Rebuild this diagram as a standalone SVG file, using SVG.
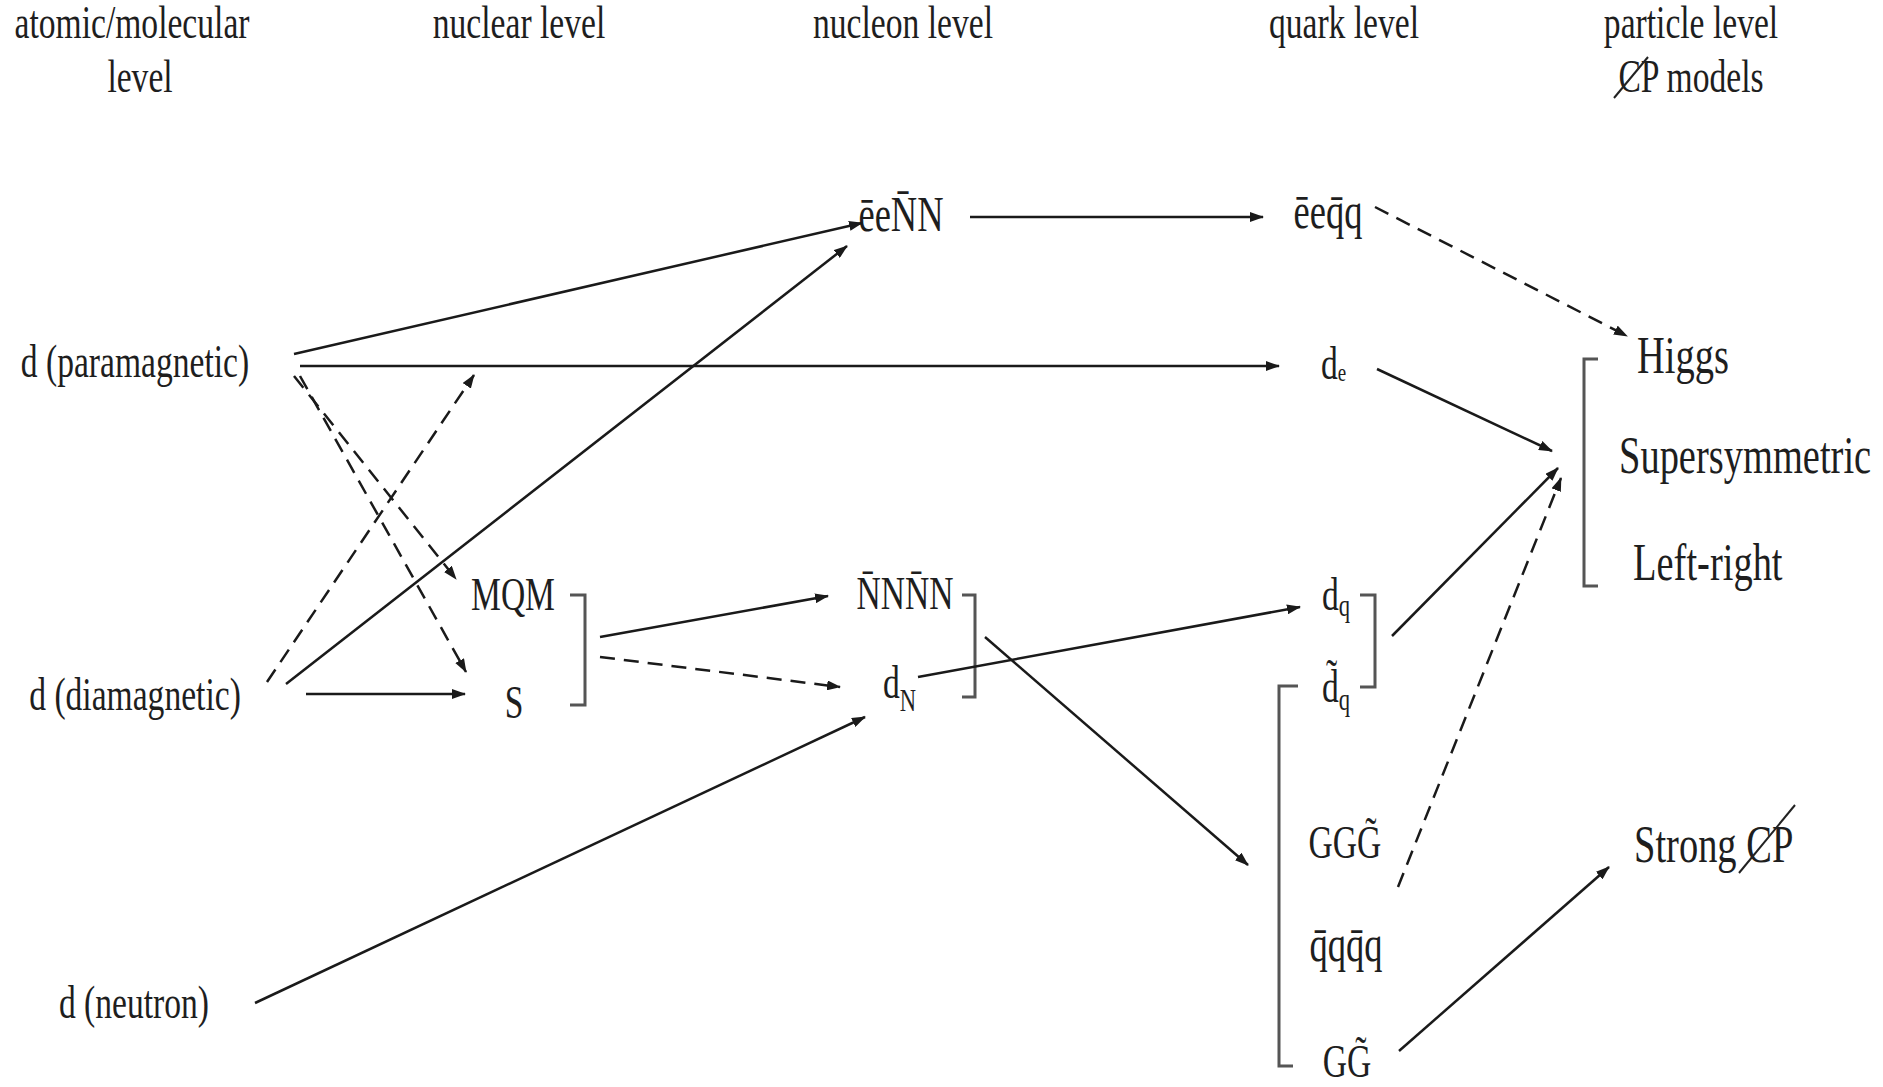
<svg xmlns="http://www.w3.org/2000/svg" width="1883" height="1087" viewBox="0 0 1883 1087">
<defs>
<marker id="ah" markerUnits="userSpaceOnUse" markerWidth="14" markerHeight="10" refX="13" refY="5" orient="auto">
<path d="M0,0 L14,5 L0,10 z" fill="#1a1a1a"/>
</marker>
<style>
text{font-family:"Liberation Serif","Times New Roman",serif;fill:#1e1e1e;font-size:46px}
.b{font-size:52px}
.m{font-size:50px}
.c line{stroke:#1a1a1a;stroke-width:2.5;fill:none;marker-end:url(#ah)}
.c line.d{stroke-dasharray:15 9}
.br{stroke:#555;stroke-width:3;fill:none}
.sl{stroke:#222;stroke-width:2;fill:none}
</style>
</defs>
<rect width="1883" height="1087" fill="#fff"/>

<g id="headers">
<text transform="translate(132,38) scale(0.73,1)" text-anchor="middle">atomic/molecular</text>
<text transform="translate(140,92) scale(0.73,1)" text-anchor="middle">level</text>
<text transform="translate(519,38) scale(0.73,1)" text-anchor="middle">nuclear level</text>
<text transform="translate(903,38) scale(0.73,1)" text-anchor="middle">nucleon level</text>
<text transform="translate(1344,38) scale(0.73,1)" text-anchor="middle">quark level</text>
<text transform="translate(1691,38) scale(0.73,1)" text-anchor="middle">particle level</text>
<text transform="translate(1691,92) scale(0.73,1)" text-anchor="middle">CP models</text>
<line class="sl" x1="1614" y1="98" x2="1648" y2="57"/>
</g>

<g id="n-para"><text transform="translate(135,377) scale(0.73,1)" text-anchor="middle">d (paramagnetic)</text></g>
<g id="n-dia"><text transform="translate(135,710) scale(0.73,1)" text-anchor="middle">d (diamagnetic)</text></g>
<g id="n-neutron"><text transform="translate(134,1018) scale(0.73,1)" text-anchor="middle">d (neutron)</text></g>

<g id="n-mqm"><text transform="translate(513,610) scale(0.73,1)" text-anchor="middle">MQM</text></g>
<g id="n-s"><text transform="translate(514,718) scale(0.73,1)" text-anchor="middle">S</text></g>
<g id="b-nuclear"><path class="br" d="M570,595 H585 V705 H570"/></g>

<g id="n-eeNN"><text class="m" transform="translate(901,231) scale(0.73,1)" text-anchor="middle">e&#x304;eN&#x304;N</text></g>
<g id="n-NNNN"><text transform="translate(905,609) scale(0.73,1)" text-anchor="middle">N&#x304;NN&#x304;N</text></g>
<g id="n-dN"><text transform="translate(883,698) scale(0.73,1)">d<tspan font-size="31" dy="13">N</tspan></text></g>
<g id="b-nucleon"><path class="br" d="M962,595 H975 V697 H962"/></g>

<g id="n-eeqq"><text class="m" transform="translate(1328,228) scale(0.73,1)" text-anchor="middle">e&#x304;eq&#x304;q</text></g>
<g id="n-de"><text transform="translate(1321,379) scale(0.73,1)">d<tspan font-size="26" dy="2">e</tspan></text></g>
<g id="n-dq"><text transform="translate(1322,610) scale(0.73,1)">d<tspan font-size="31" dy="6">q</tspan></text></g>
<g id="n-dqt"><text transform="translate(1322,702) scale(0.73,1)">d&#x303;<tspan font-size="31" dy="8">q</tspan></text></g>
<g id="b-quark1"><path class="br" d="M1360,595 H1375 V687 H1360"/></g>
<g id="n-GGGt"><text transform="translate(1345,858) scale(0.73,1)" text-anchor="middle">GGG&#x303;</text></g>
<g id="n-qqqq"><text class="m" transform="translate(1346,961) scale(0.73,1)" text-anchor="middle">q&#x304;qq&#x304;q</text></g>
<g id="n-GGt"><text transform="translate(1347,1077) scale(0.73,1)" text-anchor="middle">GG&#x303;</text></g>
<g id="b-quark2"><path class="br" d="M1298,686 H1279 V1066 H1293"/></g>

<g id="n-higgs"><text class="b" transform="translate(1637,373) scale(0.74,1)">Higgs</text></g>
<g id="n-susy"><text class="b" transform="translate(1619,473) scale(0.74,1)">Supersymmetric</text></g>
<g id="n-lr"><text class="b" transform="translate(1633,580) scale(0.74,1)">Left-right</text></g>
<g id="b-particle"><path class="br" d="M1598,359 H1584 V586 H1598"/></g>
<g id="n-strong"><text class="b" transform="translate(1634,862) scale(0.74,1)">Strong CP</text>
<line class="sl" x1="1739" y1="873" x2="1795" y2="805"/></g>

<g id="connectors" class="c">
<line x1="294" y1="354" x2="862" y2="223"/>
<line x1="300" y1="366" x2="1279" y2="366"/>
<line x1="286" y1="684" x2="847" y2="246"/>
<line class="d" x1="267" y1="682" x2="474" y2="375"/>
<line class="d" x1="294" y1="376" x2="456" y2="579"/>
<line class="d" x1="300" y1="376" x2="466" y2="672"/>
<line x1="306" y1="694" x2="465" y2="694"/>
<line x1="600" y1="637" x2="828" y2="596"/>
<line class="d" x1="600" y1="657" x2="840" y2="687"/>
<line x1="255" y1="1003" x2="865" y2="717"/>
<line x1="918" y1="677" x2="1300" y2="607"/>
<line x1="985" y1="637" x2="1248" y2="865"/>
<line x1="970" y1="217" x2="1263" y2="217"/>
<line class="d" x1="1375" y1="207" x2="1627" y2="336"/>
<line x1="1377" y1="369" x2="1552" y2="451"/>
<line x1="1392" y1="636" x2="1558" y2="468"/>
<line class="d" x1="1398" y1="887" x2="1561" y2="478"/>
<line x1="1399" y1="1051" x2="1609" y2="867"/>
</g>
</svg>
